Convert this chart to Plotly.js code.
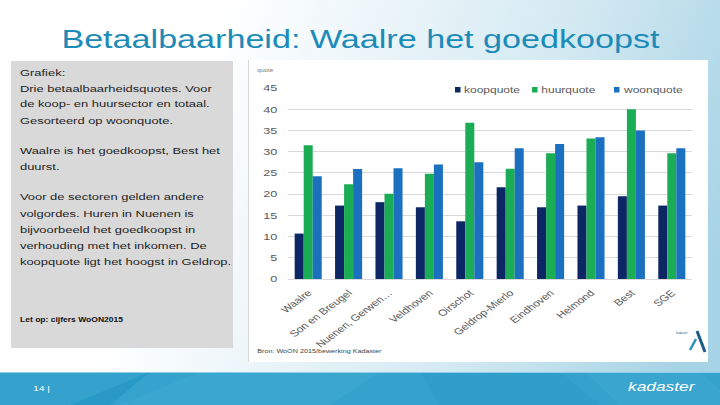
<!DOCTYPE html>
<html>
<head>
<meta charset="utf-8">
<script src="https://cdn.plot.ly/plotly-3.0.1.min.js"></script>
<style>
  html, body { margin:0; padding:0; width:720px; height:405px; overflow:hidden; background:#fff; }
  #bg { position:absolute; left:0; top:0; }
  #chart { position:absolute; left:0; top:0; width:540px; height:405px; transform:scaleX(1.33333); transform-origin:0 0; }
</style>
</head>
<body>
<svg id="bg" width="720" height="405" viewBox="0 0 720 405">
  <defs>
    <linearGradient id="g1" x1="0" y1="0" x2="720" y2="260" gradientUnits="userSpaceOnUse">
      <stop offset="0.28" stop-color="#ffffff"/>
      <stop offset="0.72" stop-color="#d3e9f2"/>
      <stop offset="1" stop-color="#a6d3e5"/>
    </linearGradient>
  </defs>
  <rect x="0" y="0" width="720" height="372" fill="url(#g1)"/>
  <rect x="248" y="60" width="460" height="302" fill="#ffffff"/>
  <line x1="248.5" y1="60" x2="248.5" y2="362" stroke="#d6d6d6" stroke-width="1"/>
  <rect x="11" y="61" width="222" height="287" fill="#d9d9d9"/>
  <rect x="0" y="372" width="720" height="33" fill="#35a2cd"/>
  <polygon points="70,405 150,372 200,372 120,405" fill="#1f93c2" opacity="0.55"/>
  <polygon points="150,372 380,372 330,405 110,405" fill="#42abd3" opacity="0.5"/>
  <polygon points="420,372 560,372 600,405 440,405" fill="#2a9ac7" opacity="0.5"/>
  <polygon points="585,372 700,372 720,390 720,405 620,405" fill="#3fa8d1" opacity="0.5"/>
  <line x1="0" y1="372.5" x2="720" y2="372.5" stroke="#8fd0e6" stroke-width="1"/>
  <path d="M697,331 L705,352" stroke="#1b5c86" stroke-width="3" fill="none"/>
  <path d="M696,339 L690,350" stroke="#2b8fbf" stroke-width="2.5" fill="none"/>
  <text x="676" y="334" font-size="3" fill="#336688" font-family="Liberation Sans, Arial">kadaster</text>
</svg>
<div id="chart"></div>
<script>
// ---- data ----
const categories = ["Waalre", "Son en Breugel", "Nuenen, Gerwen…", "Veldhoven", "Oirschot",
                    "Geldrop-Mierlo", "Eindhoven", "Helmond", "Best", "SGE"];
const koopquote = [10.7, 17.3, 18.1, 16.9, 13.6, 21.6, 16.9, 17.3, 19.5, 17.3];
const huurquote = [31.5, 22.3, 20.1, 24.8, 36.8, 26.0, 29.6, 33.1, 40.0, 29.6];
const woonquote = [24.2, 25.9, 26.1, 27.0, 27.5, 30.8, 31.8, 33.4, 35.0, 30.8];
const seriesNames = ["koopquote", "huurquote", "woonquote"];
const yTickValues = [0, 5, 10, 15, 20, 25, 30, 35, 40, 45];

const titleText = "Betaalbaarheid: Waalre het goedkoopst";
const panelLines = [
  "Grafiek:",
  "Drie betaalbaarheidsquotes. Voor",
  "de koop- en huursector en totaal.",
  "Gesorteerd op woonquote.",
  "Waalre is het goedkoopst, Best het",
  "duurst.",
  "Voor de sectoren gelden andere",
  "volgordes. Huren in Nuenen is",
  "bijvoorbeeld het goedkoopst in",
  "verhouding met het inkomen. De",
  "koopquote ligt het hoogst in Geldrop."
];
const noteText = "Let op: cijfers WoON2015";
const sourceText = "Bron: WoON 2015/bewerking Kadaster";
const yAxisLabel = "quote";
const pageNumber = "14 |";
const brandText = "kadaster";

// ---- styling ----
const colors = ["#0c2764", "#1aad55", "#1b70bf"];
const FONT = "Liberation Sans, Arial, sans-serif";
const W = 720, H = 405;
const px = x => x / W;
const py = y => (H - y) / H;

const values = [koopquote, huurquote, woonquote];
const traces = values.map((v, i) => ({
  type: "bar",
  x: categories,
  y: v,
  name: seriesNames[i],
  marker: { color: colors[i] },
  hoverinfo: "skip"
}));

const lineY = [72, 88, 104, 120, 150, 166, 197, 213, 229, 245, 261];
const annotations = [];
annotations.push({ text: titleText, xref: "paper", yref: "paper", x: 0.501, y: py(38.5),
  xanchor: "center", yanchor: "middle", showarrow: false,
  font: { family: FONT, size: 25.6, color: "#1c8bb8" } });
panelLines.forEach((t, i) => annotations.push({ text: t, xref: "paper", yref: "paper",
  x: px(17), y: py(lineY[i]), xanchor: "left", yanchor: "middle", showarrow: false,
  font: { family: FONT, size: 9.7, color: "#1e1e1e" } }));
annotations.push({ text: "<b>" + noteText + "</b>", xref: "paper", yref: "paper", x: px(17), y: py(320),
  xanchor: "left", yanchor: "middle", showarrow: false, font: { family: FONT, size: 6.4, color: "#111" } });
annotations.push({ text: sourceText, xref: "paper", yref: "paper", x: px(255), y: py(351),
  xanchor: "left", yanchor: "middle", showarrow: false, font: { family: FONT, size: 5.4, color: "#444" } });
annotations.push({ text: yAxisLabel, xref: "paper", yref: "paper", x: px(254), y: py(70),
  xanchor: "left", yanchor: "middle", showarrow: false, font: { family: FONT, size: 4.8, color: "#777" } });
annotations.push({ text: pageNumber, xref: "paper", yref: "paper", x: px(31), y: py(388),
  xanchor: "left", yanchor: "middle", showarrow: false, font: { family: FONT, size: 7.5, color: "#ffffff" } });
annotations.push({ text: "<i>" + brandText + "</i>", xref: "paper", yref: "paper", x: px(699), y: py(386.5),
  xanchor: "right", yanchor: "middle", showarrow: false, font: { family: FONT, size: 13, color: "#ffffff" } });

// legend (custom, Excel-like)
const legendSq = [455, 532, 614];
const shapes = [];
seriesNames.forEach((n, i) => {
  shapes.push({ type: "rect", xref: "paper", yref: "paper",
    x0: px(legendSq[i]), x1: px(legendSq[i] + 5.5), y0: py(92.5), y1: py(87),
    fillcolor: colors[i], line: { width: 0 } });
  annotations.push({ text: n, xref: "paper", yref: "paper", x: px(legendSq[i] + 6), y: py(89.5),
    xanchor: "left", yanchor: "middle", showarrow: false, font: { family: FONT, size: 9, color: "#595959" } });
});

const layout = {
  width: 540, height: 405,
  margin: { l: 0, r: 0, t: 0, b: 0 },
  paper_bgcolor: "rgba(0,0,0,0)",
  plot_bgcolor: "rgba(0,0,0,0)",
  showlegend: false,
  barmode: "group",
  bargap: 0.33,
  bargroupgap: 0,
  xaxis: {
    domain: [px(288), px(692)],
    tickangle: -45,
    tickfont: { family: FONT, size: 9, color: "#595959" },
    ticks: "", showline: false, showgrid: false, zeroline: false,
    ticklabelstandoff: 6,
    automargin: false
  },
  yaxis: {
    domain: [py(279), py(88)],
    range: [0, 45],
    tickvals: yTickValues,
    ticktext: yTickValues.map(String),
    tickfont: { family: FONT, size: 9.5, color: "#595959" },
    gridcolor: "#d9d9d9", gridwidth: 1,
    zeroline: true, zerolinecolor: "#d9d9d9", zerolinewidth: 1,
    showline: false, ticks: "",
    ticklabelstandoff: 7,
    automargin: false
  },
  shapes: shapes,
  annotations: annotations
};

Plotly.newPlot("chart", traces, layout, { displayModeBar: false, staticPlot: true });
</script>
</body>
</html>
